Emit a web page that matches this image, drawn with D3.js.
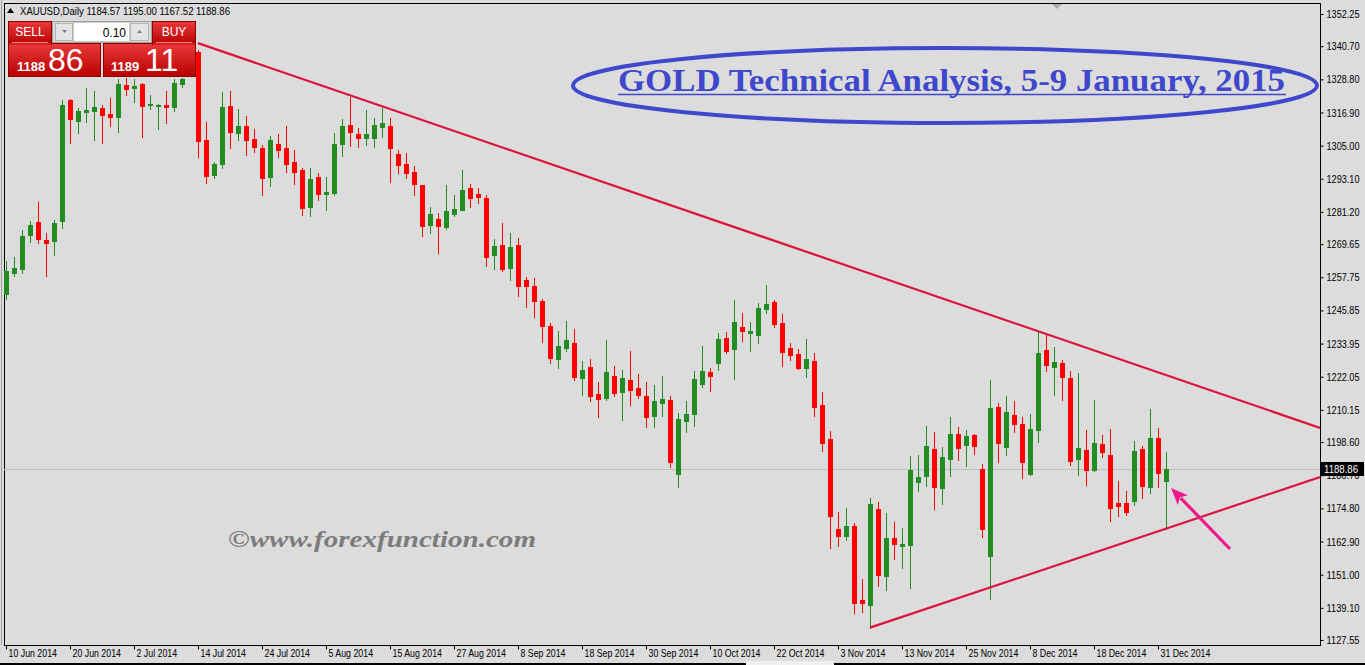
<!DOCTYPE html>
<html><head><meta charset="utf-8">
<script src="https://cdn.jsdelivr.net/npm/d3@7/dist/d3.min.js"></script>
<style>
html,body{margin:0;padding:0;background:#dcdcdc;overflow:hidden;}
svg{display:block;}
</style></head><body>
<svg id="chart" width="1365" height="665"></svg>
<script>
// ---------- DATA ----------
const symbolName = "XAUUSD,Daily";
const titleText = "GOLD Technical Analysis, 5-9 January, 2015";
const watermarkText = "\u00A9www.forexfunction.com";

const opens = [1251.75,1259.2,1260.8,1273.0,1277.6,1271.1,1270.9,1278.1,1321.4,1314.0,
1317.2,1317.6,1318.5,1316.4,1315.4,1326.8,1325.8,1327.1,1319.7,1319.4,
1319.6,1319.0,1327.3,1331.0,1338.7,1307.0,1294.6,1298.5,1319.2,1309.7,
1312.1,1307.4,1304.2,1293.9,1305.6,1304.2,1299.1,1296.3,1283.1,1293.7,
1287.8,1288.1,1305.7,1312.4,1309.2,1307.9,1307.9,1311.8,1312.0,1302.0,
1298.4,1295.5,1290.9,1276.6,1278.7,1275.9,1280.6,1282.0,1289.8,1287.6,
1286.2,1265.9,1269.3,1261.2,1269.3,1256.8,1254.6,1249.2,1240.3,1228.5,
1232.5,1234.2,1221.7,1225.5,1215.9,1214.5,1222.3,1216.7,1220.9,1218.0,
1215.1,1208.1,1212.7,1213.7,1187.3,1206.3,1208.8,1219.6,1223.7,1227.1,
1236.0,1232.1,1239.9,1237.9,1237.2,1246.5,1248.9,1241.3,1232.4,1230.2,
1225.3,1227.7,1211.9,1199.7,1167.4,1165.0,1168.5,1141.9,1140.2,1174.6,
1150.6,1164.2,1161.4,1161.8,1184.4,1186.5,1196.1,1182.2,1192.6,1201.5,
1197.7,1201.1,1188.9,1157.8,1211.2,1196.9,1208.3,1205.1,1187.3,1203.0,
1231.6,1225.7,1227.0,1221.6,1192.6,1195.7,1188.7,1197.9,1194.0,1176.7,
1176.7,1177.6,1196.1,1182.6,1200.1,1184.57];
const highs = [1263.6,1264.9,1274.6,1277.8,1284.8,1273.5,1278.3,1321.4,1321.7,1318.4,
1325.6,1324.6,1319.6,1322.1,1328.8,1329.5,1329.0,1327.6,1323.2,1319.8,
1324.6,1329.0,1329.8,1338.5,1339.5,1313.5,1299.1,1324.3,1324.6,1318.2,
1315.6,1311.0,1305.1,1308.3,1309.2,1312.1,1303.4,1297.0,1297.0,1295.1,
1293.7,1309.5,1314.6,1322.6,1311.3,1317.8,1314.9,1318.5,1314.9,1303.4,
1302.4,1297.7,1291.0,1283.0,1280.8,1290.9,1287.3,1296.3,1291.2,1289.8,
1287.3,1271.5,1277.2,1273.6,1271.8,1257.8,1257.5,1250.0,1241.3,1238.5,
1242.1,1239.2,1227.7,1228.4,1220.2,1235.2,1225.9,1224.5,1231.3,1223.0,
1220.2,1219.1,1222.3,1215.1,1209.0,1213.3,1224.1,1233.1,1225.2,1237.7,
1238.1,1249.6,1244.9,1241.7,1248.5,1255.0,1249.6,1244.6,1234.2,1232.0,
1235.6,1230.6,1216.6,1202.6,1173.5,1174.9,1169.6,1149.4,1178.5,1177.1,
1173.1,1169.9,1167.8,1193.6,1194.0,1204.4,1202.2,1196.8,1207.6,1204.0,
1202.9,1201.5,1190.7,1220.9,1212.6,1215.1,1213.3,1207.6,1208.7,1238.1,
1237.4,1232.7,1228.1,1224.1,1223.4,1202.9,1213.7,1201.1,1203.3,1184.6,
1181.0,1199.0,1197.2,1210.5,1203.6,1195.00];
const lows = [1249.8,1258.3,1259.4,1270.5,1270.2,1258.3,1265.9,1275.6,1306.1,1309.7,
1313.6,1307.1,1306.1,1312.1,1310.0,1323.3,1320.8,1308.2,1318.3,1311.1,
1313.3,1317.6,1326.2,1330.2,1301.0,1291.7,1293.5,1297.1,1304.3,1307.1,
1301.8,1302.8,1287.4,1290.6,1301.0,1295.7,1291.4,1280.2,1279.9,1285.6,
1282.0,1287.4,1301.4,1305.0,1304.6,1305.3,1304.6,1308.2,1292.1,1295.3,
1293.5,1287.4,1272.7,1273.8,1266.6,1275.2,1279.9,1281.9,1283.1,1284.5,
1261.9,1260.8,1260.1,1256.9,1251.1,1247.2,1243.6,1234.6,1227.1,1225.3,
1231.4,1221.0,1215.6,1213.5,1207.7,1213.8,1215.3,1206.6,1212.0,1214.5,
1204.1,1204.1,1208.1,1189.8,1182.6,1202.3,1204.5,1218.5,1217.0,1224.6,
1230.7,1221.4,1235.0,1231.4,1234.3,1245.0,1240.0,1226.0,1228.2,1224.9,
1222.1,1208.1,1195.5,1160.7,1161.4,1163.6,1137.4,1137.7,1132.0,1147.1,
1145.6,1156.7,1153.5,1146.3,1181.2,1183.0,1174.6,1176.5,1186.5,1192.3,
1190.1,1194.4,1164.6,1142.4,1191.6,1194.1,1202.3,1185.8,1186.9,1198.7,
1224.2,1215.6,1213.8,1190.5,1186.9,1183.3,1188.3,1193.4,1170.4,1172.2,
1172.5,1176.1,1178.6,1180.4,1182.6,1167.52];
const closes = [1260.0,1261.0,1272.6,1276.5,1271.6,1270.2,1277.2,1319.6,1314.7,1317.4,
1317.8,1318.9,1316.1,1315.4,1327.1,1325.5,1326.3,1319.4,1319.9,1319.6,
1319.0,1327.5,1328.8,1336.5,1306.8,1294.2,1298.3,1318.9,1310.0,1312.1,
1307.1,1304.6,1293.3,1307.0,1303.6,1298.5,1295.7,1282.7,1293.0,1287.8,
1288.4,1305.6,1312.0,1310.0,1307.9,1309.2,1312.4,1313.1,1304.3,1298.2,
1295.3,1291.4,1276.3,1280.5,1276.3,1281.5,1282.3,1289.1,1286.3,1286.7,
1265.1,1269.0,1260.8,1268.6,1254.7,1254.7,1249.4,1240.4,1228.9,1233.1,
1235.2,1222.1,1224.5,1215.3,1214.2,1223.8,1216.3,1221.6,1217.4,1215.6,
1207.7,1213.3,1214.1,1191.6,1206.9,1208.7,1221.2,1224.1,1222.4,1235.6,
1231.4,1241.7,1238.6,1238.5,1246.7,1248.2,1241.1,1231.1,1230.0,1225.3,
1228.4,1211.3,1198.4,1172.2,1165.0,1168.5,1141.0,1141.0,1176.4,1151.0,
1164.2,1162.1,1162.0,1188.6,1186.1,1197.2,1182.6,1193.2,1201.5,1196.6,
1200.8,1197.3,1167.5,1210.8,1198.4,1209.4,1205.2,1191.6,1203.3,1230.6,
1226.4,1227.3,1222.1,1191.9,1196.5,1188.7,1198.3,1195.2,1175.1,1175.8,
1173.6,1195.4,1182.9,1200.1,1187.6,1188.86];

const tickIdx = [0,8,16,24,32,40,48,56,64,72,80,88,96,104,112,120,128,136,144];
const tickLabels = ["10 Jun 2014","20 Jun 2014","2 Jul 2014","14 Jul 2014","24 Jul 2014",
"5 Aug 2014","15 Aug 2014","27 Aug 2014","8 Sep 2014","18 Sep 2014","30 Sep 2014",
"10 Oct 2014","22 Oct 2014","3 Nov 2014","13 Nov 2014","25 Nov 2014","8 Dec 2014",
"18 Dec 2014","31 Dec 2014"];
const yTicks = [1352.25,1340.70,1328.80,1316.90,1305.00,1293.10,1281.20,1269.65,1257.75,
1245.85,1233.95,1222.05,1210.15,1198.60,1186.70,1174.80,1162.90,1151.00,1139.10,1127.55];

// trend line anchors: [bar index, price]
const upperLine = [[24,1341.8],[129,1238.4]];
const lowerLine = [[108,1132.0],[145,1167.52]];
const lastPrice = 1188.86;
const sellPrice = ["1188","86"];
const buyPrice = ["1189","11"];
const lotSize = "0.10";

// ---------- LAYOUT ----------
const W = 1365, H = 665;
const plot = {left:4, top:3, right:1320, bottom:645};
const svg = d3.select("#chart");

svg.append("rect").attr("width",W).attr("height",H).attr("fill","#dcdcdc");

const defs = svg.append("defs");
const gr = defs.append("linearGradient").attr("id","redg").attr("x1",0).attr("y1",0).attr("x2",0).attr("y2",1);
gr.append("stop").attr("offset","0%").attr("stop-color","#ea3a3a");
gr.append("stop").attr("offset","100%").attr("stop-color","#b80000");
defs.append("clipPath").attr("id","plotclip").append("rect")
  .attr("x",plot.left).attr("y",plot.top).attr("width",plot.right-plot.left).attr("height",plot.bottom-plot.top);

const x = d3.scaleLinear().domain([0,145]).range([6,1166]);
const y = d3.scaleLinear().domain([1127.55,1352.25]).range([640,14]);

// frame
svg.append("rect").attr("x",plot.left+0.5).attr("y",plot.top+0.5)
  .attr("width",plot.right-plot.left).attr("height",plot.bottom-plot.top)
  .attr("fill","none").attr("stroke","#000").attr("shape-rendering","crispEdges");
svg.append("line").attr("x1",1.5).attr("x2",1.5).attr("y1",0).attr("y2",plot.bottom)
  .attr("stroke","#a0a0a0").attr("shape-rendering","crispEdges");
svg.append("line").attr("x1",0).attr("x2",W).attr("y1",663.5).attr("y2",663.5)
  .attr("stroke","#000").attr("stroke-width",2).attr("shape-rendering","crispEdges");
svg.append("rect").attr("x",746).attr("y",661).attr("width",88).attr("height",4).attr("fill","#f0f0f0");

// shift marker
svg.append("polygon").attr("points","1052,4 1062,4 1057,9").attr("fill","#a8a8a8");

const g = svg.append("g").attr("clip-path","url(#plotclip)");

// last price line
g.append("line").attr("x1",plot.left).attr("x2",plot.right)
  .attr("y1",Math.round(y(lastPrice))+0.5).attr("y2",Math.round(y(lastPrice))+0.5)
  .attr("stroke","#c0c0c0").attr("shape-rendering","crispEdges");

// candles
const candles = d3.range(opens.length).map(i=>({i,o:opens[i],h:highs[i],l:lows[i],c:closes[i]}));
const cg = g.append("g").attr("shape-rendering","crispEdges");
const col = d => d.c >= d.o ? "#228b22" : "#ff0000";
cg.selectAll("line.wick").data(candles).join("line").attr("class","wick")
  .attr("x1",d=>Math.round(x(d.i))+0.5).attr("x2",d=>Math.round(x(d.i))+0.5)
  .attr("y1",d=>Math.round(y(d.h))).attr("y2",d=>Math.round(y(d.l))+1)
  .attr("stroke",col).attr("stroke-width",1);
cg.selectAll("rect.body").data(candles).join("rect").attr("class","body")
  .attr("x",d=>Math.round(x(d.i))-2).attr("width",5)
  .attr("y",d=>Math.round(y(Math.max(d.o,d.c))))
  .attr("height",d=>Math.max(2,Math.round(y(Math.min(d.o,d.c)))-Math.round(y(Math.max(d.o,d.c)))+1))
  .attr("fill",col);

// trend lines
function trend(anchors){
  const [[i1,p1],[i2,p2]] = anchors;
  const s = (p2-p1)/(i2-i1);
  const iEnd = x.invert(plot.right);
  return [[x(i1),y(p1)],[x(iEnd),y(p1+s*(iEnd-i1))]];
}
[upperLine, lowerLine].forEach(a=>{
  const pts = trend(a);
  g.append("line").attr("x1",pts[0][0]).attr("y1",pts[0][1]).attr("x2",pts[1][0]).attr("y2",pts[1][1])
    .attr("stroke","#dc143c").attr("stroke-width",2.2);
});

// y axis
const yAxis = d3.axisRight(y).tickValues(yTicks).tickFormat(d=>d.toFixed(2)).tickSize(3).tickPadding(3);
const ya = svg.append("g").attr("transform",`translate(${plot.right+0.5},0)`).call(yAxis);
ya.select(".domain").remove();
ya.selectAll(".tick line").attr("stroke","#000");
ya.selectAll("text").attr("fill","#000").style("font-family","'Liberation Sans',Arial,sans-serif")
  .style("font-size","11px").attr("textLength",33).attr("lengthAdjust","spacingAndGlyphs");

// x axis
const xAxis = d3.axisBottom(x).tickValues(tickIdx).tickFormat((d,k)=>tickLabels[k]).tickSize(4);
const xa = svg.append("g").attr("transform",`translate(0,${plot.bottom+0.5})`).call(xAxis);
xa.select(".domain").remove();
xa.selectAll(".tick line").attr("stroke","#000");
xa.selectAll("text").attr("fill","#000").attr("x",2).attr("y",4).attr("dy","0.71em")
  .style("text-anchor","start").style("font-family","'Liberation Sans',Arial,sans-serif").style("font-size","11px")
  .each(function(){ d3.select(this).attr("textLength",this.getComputedTextLength()*0.8).attr("lengthAdjust","spacingAndGlyphs"); });

// last price label
const ly = Math.round(y(lastPrice));
svg.append("rect").attr("x",plot.right+1).attr("y",ly-7).attr("width",43).attr("height",14).attr("fill","#000");
svg.append("text").attr("x",plot.right+4).attr("y",ly+4).text(lastPrice.toFixed(2))
  .attr("fill","#fff").style("font-family","'Liberation Sans',Arial,sans-serif").style("font-size","11px")
  .attr("textLength",34).attr("lengthAdjust","spacingAndGlyphs");

// header
svg.append("polygon").attr("points","7,13 10.5,8 14,13").attr("fill","#000");
svg.append("text").attr("x",20).attr("y",15)
  .text(`${symbolName}  ${opens[145].toFixed(2)} ${highs[145].toFixed(2)} ${lows[145].toFixed(2)} ${closes[145].toFixed(2)}`)
  .style("font-family","'Liberation Sans',Arial,sans-serif").style("font-size","11px").attr("fill","#000")
  .attr("textLength",210).attr("lengthAdjust","spacingAndGlyphs");

// trade widget
const wg = svg.append("g");
const txt = (x0,y0,t,size,anchor,fill,weight)=>wg.append("text").attr("x",x0).attr("y",y0).text(t)
  .style("font-family","'Liberation Sans',Arial,sans-serif").style("font-size",size+"px")
  .style("font-weight",weight||"normal").attr("text-anchor",anchor||"start").attr("fill",fill||"#fff");
wg.append("rect").attr("x",8).attr("y",20).attr("width",188).attr("height",58).attr("fill","#dcdcdc");
// sell / buy big panels
wg.append("rect").attr("x",8.5).attr("y",43.5).attr("width",92).attr("height",33).attr("fill","url(#redg)").attr("stroke","#8c0000");
wg.append("rect").attr("x",103.5).attr("y",43.5).attr("width",92).attr("height",33).attr("fill","url(#redg)").attr("stroke","#8c0000");
wg.append("rect").attr("x",8.5).attr("y",21.5).attr("width",43).attr("height",23).attr("fill","url(#redg)").attr("stroke","#8c0000");
wg.append("rect").attr("x",152.5).attr("y",21.5).attr("width",43).attr("height",23).attr("fill","url(#redg)").attr("stroke","#8c0000");
wg.append("rect").attr("x",9).attr("y",43).attr("width",42).attr("height",2).attr("fill","#d62020");
wg.append("rect").attr("x",153).attr("y",43).attr("width",42).attr("height",2).attr("fill","#d62020");
wg.append("line").attr("x1",12).attr("x2",48).attr("y1",42.5).attr("y2",42.5).attr("stroke","#f08080");
wg.append("line").attr("x1",156).attr("x2",192).attr("y1",42.5).attr("y2",42.5).attr("stroke","#f08080");
// spinner
wg.append("rect").attr("x",52.5).attr("y",21.5).attr("width",99).attr("height",21).attr("fill","#d8d8d8").attr("stroke","#a0a0a0");
wg.append("rect").attr("x",55.5).attr("y",23.5).attr("width",17).attr("height",17).attr("fill","#e4e4e4").attr("stroke","#b4b4b4");
wg.append("rect").attr("x",130.5).attr("y",23.5).attr("width",18).attr("height",17).attr("fill","#e4e4e4").attr("stroke","#b4b4b4");
wg.append("rect").attr("x",73.5).attr("y",22.5).attr("width",56).attr("height",19).attr("fill","#fff").attr("stroke","#c8c8c8");
wg.append("polygon").attr("points","62,30 67,30 64.5,33").attr("fill","#6a7a9a");
wg.append("polygon").attr("points","137,33 142,33 139.5,30").attr("fill","#6a7a9a");
txt(126,37,lotSize,12,"end","#000");
txt(30,36,"SELL",12,"middle");
txt(174,36,"BUY",12,"middle");
txt(17,71,sellPrice[0],13,"start","#fff","bold");
txt(48,71,sellPrice[1],32,"start","#fff");
txt(111,71,buyPrice[0],13,"start","#fff","bold");
txt(145,71,buyPrice[1],32,"start","#fff");

// title ellipse
svg.append("ellipse").attr("cx",945).attr("cy",85.5).attr("rx",372).attr("ry",37.5)
  .attr("fill","none").attr("stroke","#3f48cc").attr("stroke-width",4);
svg.append("text").attr("x",618).attr("y",91).text(titleText)
  .style("font-family","'Liberation Serif','Times New Roman',serif").style("font-weight","bold").style("font-size","31px")
  .attr("fill","#3f48cc").attr("textLength",667).attr("lengthAdjust","spacingAndGlyphs");
svg.append("line").attr("x1",618).attr("x2",1286).attr("y1",94.5).attr("y2",94.5).attr("stroke","#3f48cc").attr("stroke-width",1.5);

// watermark
svg.append("text").attr("x",228).attr("y",547).text(watermarkText)
  .style("font-family","'Liberation Serif','Times New Roman',serif").style("font-style","italic").style("font-weight","bold")
  .style("font-size","23px").attr("fill","#7c7c7c").attr("textLength",308).attr("lengthAdjust","spacingAndGlyphs");

// arrow
(function(){
  const tail=[1230,549], tip=[1171,488];
  const dx=tip[0]-tail[0], dy=tip[1]-tail[1], len=Math.hypot(dx,dy);
  const ux=dx/len, uy=dy/len, nx=-uy, ny=ux;
  const hl=17, hw=7;
  const bx=tip[0]-ux*hl, by=tip[1]-uy*hl;
  svg.append("line").attr("x1",tail[0]).attr("y1",tail[1]).attr("x2",bx+ux*3).attr("y2",by+uy*3)
    .attr("stroke","#f0198c").attr("stroke-width",3.2);
  svg.append("polygon").attr("points",`${tip[0]},${tip[1]} ${bx+nx*hw},${by+ny*hw} ${bx+ux*4},${by+uy*4} ${bx-nx*hw},${by-ny*hw}`)
    .attr("fill","#f0198c");
})();
</script>
</body></html>
